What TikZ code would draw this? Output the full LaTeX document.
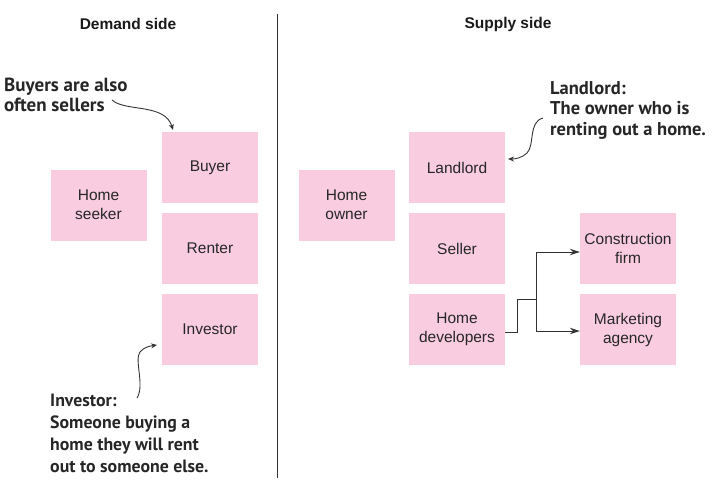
\documentclass[tikz,border=0pt]{standalone}
\usepackage{fontspec}
\setmainfont{Liberation Sans}
\newfontfamily\notefont{PT Sans}
\usetikzlibrary{arrows.meta}
\definecolor{pinkbox}{HTML}{F9CCE0}
\definecolor{linegray}{HTML}{333333}
\tikzset{
  card/.style={fill=pinkbox, minimum width=96pt, minimum height=71pt, inner sep=0pt,
    align=center, font=\fontsize{15.5}{19}\selectfont, text=black!85},
  heading/.style={font=\bfseries\fontsize{15.5}{18}\selectfont, text=black!90},
  note/.style={font=\notefont\bfseries\fontsize{18.5}{20.5}\selectfont, align=left, text=black!85, inner sep=0pt},
  curvy/.style={draw=linegray, line width=0.9pt, -{Stealth[length=6pt,width=5pt]}},
  elbow/.style={draw=linegray, line width=1pt},
  elbowarrow/.style={draw=linegray, line width=1pt, -{Stealth[length=10pt,width=6.5pt]}}
}
\begin{document}
\begin{tikzpicture}[x=1pt,y=-1pt]
\useasboundingbox (0,0) rectangle (715,488);
% divider
\coordinate (divtop) at (277,14);
\coordinate (divbot) at (277,478);
\draw[linegray, line width=0.8pt] (divtop) -- (divbot);
% headings
\node[heading] (hdemand) at (128,24) {Demand side};
\node[heading] (hsupply) at (508,24) {Supply side};
% demand side
\node[card] (seeker) at (98.5,205) {Home\\seeker};
\node[card] (buyer) at (210,167.5) {Buyer};
\node[card] (renter) at (210,248.5) {Renter};
\node[card] (investor) at (210,329) {Investor};
% supply side
\node[card] (owner) at (346.5,205) {Home\\owner};
\node[card] (landlord) at (457,167.5) {Landlord};
\node[card] (seller) at (457,248.5) {Seller};
\node[card] (developers) at (457,329.5) {Home\\developers};
\node[card] (construction) at (628,248.5) {Construction\\firm};
\node[card] (marketing) at (628,329.5) {Marketing\\agency};
% notes
\node[note, anchor=north west, font=\notefont\bfseries\fontsize{19}{20}\selectfont] (nbuyers) at (4,78) {Buyers are also\\often sellers};
\node[note, anchor=north west, font=\notefont\bfseries\fontsize{17.8}{22}\selectfont] (ninvestor) at (50,394) {Investor:\\Someone buying a\\home they will rent\\out to someone else.};
\node[note, anchor=north west] (nlandlord) at (550,81) {Landlord:\\The owner who is\\renting out a home.};
% curved arrows
\coordinate (b1) at (112,100);
\coordinate (b2) at (173,130);
\draw[curvy] (b1) .. controls (125,112) and (165,103) .. (b2);
\coordinate (i1) at (137,398);
\coordinate (i2) at (157,345);
\draw[curvy] (i1) .. controls (145,385) and (134,360) .. (140,352) .. controls (144,347) and (150,346) .. (i2);
\coordinate (l1) at (543,118);
\coordinate (l2) at (508,159);
\draw[curvy] (l1) .. controls (528,122) and (535,145) .. (527,153) .. controls (522,158) and (515,159) .. (l2);
% elbow connector
\coordinate (e1) at (517,332);
\coordinate (e2) at (517,299);
\coordinate (e3) at (536,299);
\coordinate (e4) at (536,252);
\coordinate (e5) at (536,331);
\draw[elbow] (developers.east |- e1) -- (e1) -- (e2) -- (e3);
\draw[elbowarrow] (e3) -- (e4) -- (construction.west |- e4);
\draw[elbowarrow] (e3) -- (e5) -- (marketing.west |- e5);
\end{tikzpicture}
\end{document}
